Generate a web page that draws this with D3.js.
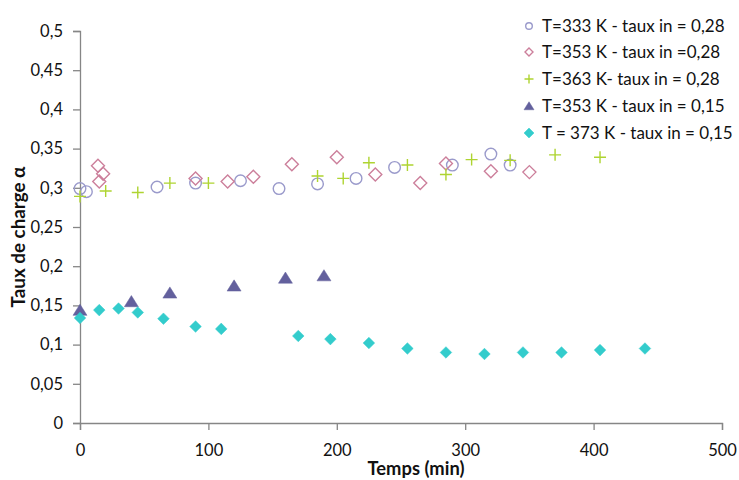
<!DOCTYPE html>
<html><head><meta charset="utf-8">
<script src="https://cdn.jsdelivr.net/npm/d3@7"></script>
<style>body{margin:0;background:#fff}svg{display:block}text{font-family:Lato,"Open Sans",sans-serif}</style>
</head><body>
<svg id="c" width="739" height="480"></svg>
<script>
const xTicks = [0,100,200,300,400,500];
const yTicks = [0,0.05,0.1,0.15,0.2,0.25,0.3,0.35,0.4,0.45,0.5];
const s333_028_x = [0,5,60,90,125,155,185,215,245,290,320,335];
const s333_028_y = [0.299,0.295,0.301,0.306,0.309,0.299,0.305,0.312,0.326,0.329,0.343,0.329];
const s353_028_x = [14,18,15,90,115,135,165,200,230,265,285,320,350];
const s353_028_y = [0.328,0.318,0.308,0.312,0.308,0.314,0.330,0.339,0.317,0.306,0.331,0.321,0.320];
const s363_028_x = [0,20,45,70,100,185,205,225,255,285,305,335,370,405];
const s363_028_y = [0.289,0.296,0.294,0.306,0.306,0.315,0.312,0.332,0.329,0.317,0.336,0.335,0.342,0.339];
const s353_015_x = [0,40,70,120,160,190];
const s353_015_y = [0.144,0.155,0.166,0.175,0.185,0.188];
const s373_015_x = [0,15,30,45,65,90,110,170,195,225,255,285,315,345,375,405,440];
const s373_015_y = [0.134,0.144,0.146,0.141,0.133,0.123,0.120,0.111,0.107,0.102,0.095,0.090,0.088,0.090,0.090,0.093,0.095];
const legendLabels = ["T=333 K - taux in = 0,28","T=353 K - taux in =0,28","T=363 K- taux in = 0,28","T=353 K - taux in = 0,15","T = 373 K - taux in = 0,15"];

const svg = d3.select("#c");
const x = d3.scaleLinear().domain([0,500]).range([80,722]);
const y = d3.scaleLinear().domain([0,0.5]).range([423,31]);
const fmt = d => String(d).replace(".", ",");
const axisColor = "#868686";

function fitFont(sel, target){
  const node = sel.node();
  const fs = parseFloat(sel.style("font-size"));
  const w = node.getComputedTextLength();
  if (w > 0) sel.style("font-size", (fs*target/w).toFixed(2)+"px");
}

const gx = svg.append("g").attr("transform","translate(0,423)")
  .call(d3.axisBottom(x).tickValues(xTicks).tickSize(7).tickPadding(14).tickFormat(d=>d));
const gy = svg.append("g").attr("transform","translate(80,0)")
  .call(d3.axisLeft(y).tickValues(yTicks).tickSize(7).tickPadding(10).tickFormat(fmt));
[gx,gy].forEach(g=>{
  g.select(".domain").attr("stroke",axisColor).attr("stroke-width",1.3);
  g.selectAll(".tick line").attr("stroke",axisColor).attr("stroke-width",1.3);
  g.selectAll(".tick text").attr("fill","#111").style("font-size","16.5px").style("font-family","Lato, sans-serif");
});

const xt = svg.append("text").attr("x",416).attr("y",475).attr("text-anchor","middle")
  .style("font-size","18px").style("font-weight","bold").attr("fill","#111").text("Temps (min)");
fitFont(xt, 97);
const yt = svg.append("text").attr("transform","translate(25,237) rotate(-90)").attr("text-anchor","middle")
  .style("font-size","18px").style("font-weight","bold").attr("fill","#111").text("Taux de charge α");
fitFont(yt, 141);

const series = [
  {xs:s333_028_x, ys:s333_028_y, type:"circle", r:5.8, fill:"none", stroke:"#9a9acb", lr:3.3},
  {xs:s353_028_x, ys:s353_028_y, type:"diamond", r:6.5, fill:"none", stroke:"#cc7f9b", lr:4},
  {xs:s363_028_x, ys:s363_028_y, type:"plus", r:6, fill:"none", stroke:"#aed431", lr:4.5},
  {xs:s353_015_x, ys:s353_015_y, type:"triangle", r:7, fill:"#63609d", stroke:"#63609d", lr:5},
  {xs:s373_015_x, ys:s373_015_y, type:"diamond", r:5.8, fill:"#33cccc", stroke:"#33cccc", lr:5}
];

function drawMarker(g, s, cx, cy, r){
  let d;
  if (s.type==="plus") d = `M${cx-r},${cy}H${cx+r}M${cx},${cy-r}V${cy+r}`;
  else if (s.type==="diamond") d = `M${cx},${cy-r}L${cx+r},${cy}L${cx},${cy+r}L${cx-r},${cy}Z`;
  else if (s.type==="triangle") d = `M${cx},${cy-r*0.85}L${cx+r},${cy+r*0.75}L${cx-r},${cy+r*0.75}Z`;
  if (s.type==="circle"){
    g.append("circle").attr("cx",cx).attr("cy",cy).attr("r",r)
      .attr("fill","none").attr("stroke",s.stroke).attr("stroke-width",1.4);
  } else {
    g.append("path").attr("d",d).attr("fill",s.fill).attr("stroke",s.stroke)
      .attr("stroke-width",s.fill==="none"?1.4:0.5);
  }
}

series.forEach(s=>{
  const g = svg.append("g");
  s.xs.forEach((v,i)=>drawMarker(g,s,x(v),y(s.ys[i]),s.r));
});

const legY = [26,52,79,106,133];
series.forEach((s,i)=>{
  const g = svg.append("g");
  drawMarker(g,s,529,legY[i],s.lr);
  const t = g.append("text").attr("x",542).attr("y",legY[i]+6).style("font-size","17px").attr("fill","#111").text(legendLabels[i]);
});
</script>
</body></html>
